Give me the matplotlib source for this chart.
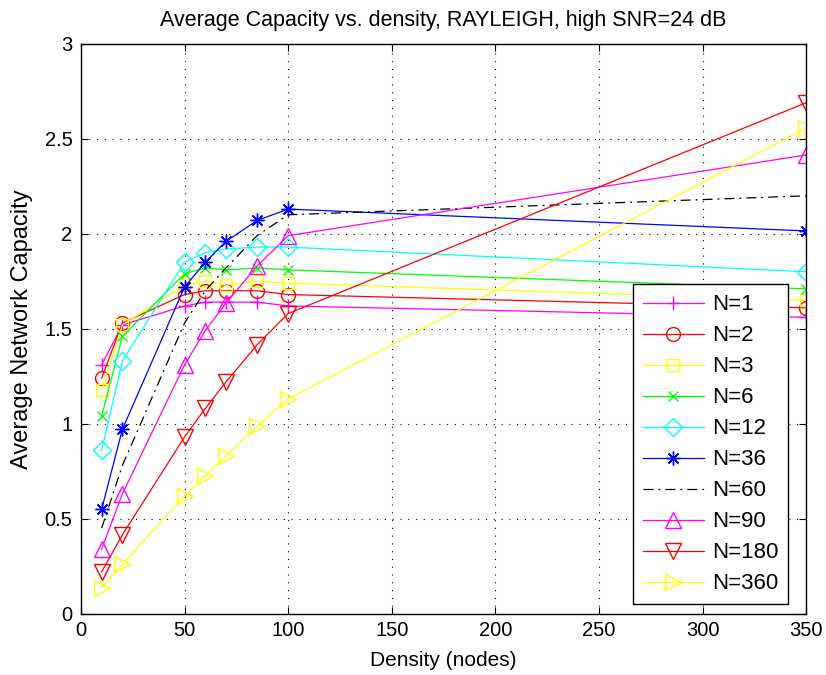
import numpy as np
import matplotlib.pyplot as plt

plt.rcParams['font.family'] = ['Liberation Sans', 'DejaVu Sans']

density = [10, 20, 50, 60, 70, 85, 100, 350]

labels = ["N=1", "N=2", "N=3", "N=6", "N=12", "N=36", "N=60", "N=90", "N=180", "N=360"]

cap_n1 = [1.31, 1.52, 1.62, 1.64, 1.64, 1.64, 1.62, 1.56]
cap_n2 = [1.24, 1.53, 1.68, 1.70, 1.70, 1.70, 1.68, 1.61]
cap_n3 = [1.175, 1.52, 1.73, 1.75, 1.73, 1.75, 1.74, 1.65]
cap_n6 = [1.04, 1.46, 1.79, 1.82, 1.81, 1.82, 1.81, 1.71]
cap_n12 = [0.86, 1.33, 1.85, 1.90, 1.92, 1.93, 1.93, 1.80]
cap_n36 = [0.55, 0.97, 1.72, 1.85, 1.96, 2.07, 2.13, 2.015]
cap_n60 = [0.45, 0.78, 1.53, 1.70, 1.82, 1.99, 2.10, 2.20]
cap_n90 = [0.34, 0.63, 1.31, 1.49, 1.635, 1.83, 1.99, 2.415]
cap_n180 = [0.22, 0.415, 0.93, 1.08, 1.22, 1.415, 1.58, 2.69]
cap_n360 = [0.135, 0.26, 0.62, 0.726, 0.83, 0.986, 1.13, 2.556]

series = [cap_n1, cap_n2, cap_n3, cap_n6, cap_n12, cap_n36, cap_n60, cap_n90, cap_n180, cap_n360]

# matlab style colours / markers
colors = ['#ff00ff', '#ff0000', '#ffff00', '#00ff00', '#00ffff', '#0000ff', '#000000',
          '#ff00ff', '#ff0000', '#ffff00']
markers = ['+', 'o', 's', 'x', 'D', (8, 2, 0), None, '^', 'v', '>']
msizes = [10, 10, 9, 7, 9, 10, 0, 11, 11, 11]

fig = plt.figure(figsize=(8.26, 6.75), dpi=100)
ax = fig.add_axes([0.098, 0.091, 0.878, 0.844])

for vals, lab, c, m, ms in zip(series, labels, colors, markers, msizes):
    if m is None:
        ax.plot(density, vals, color=c, linestyle=(0, (8, 4, 1.5, 4)), linewidth=0.9, label=lab)
    else:
        ax.plot(density, vals, color=c, marker=m, markersize=ms, markerfacecolor='none',
                markeredgecolor=c, markeredgewidth=1.0, linewidth=0.9, label=lab)

ax.set_xlim(0, 350)
ax.set_ylim(0, 3)
ax.set_xticks(np.arange(0, 351, 50))
ax.set_yticks(np.arange(0, 3.01, 0.5))
ax.set_yticklabels(['0', '0.5', '1', '1.5', '2', '2.5', '3'])
ax.grid(True, color='black', linestyle=(0, (1, 6)), linewidth=0.8)
ax.tick_params(direction='in', length=5, labelsize=14.5, top=True, right=True, width=0.8)
ax.tick_params(axis='x', pad=5)
ax.tick_params(axis='y', pad=6)
for sp in ax.spines.values():
    sp.set_linewidth(1.0)

ax.set_xlabel('Density (nodes)', fontsize=15)
ax.set_ylabel('Average Network Capacity', fontsize=17)
ax.xaxis.set_label_coords(0.5, -0.066)
ax.yaxis.set_label_coords(-0.066, 0.5)
ax.set_title('Average Capacity vs. density, RAYLEIGH, high SNR=24 dB', fontsize=15.5, pad=13)

leg = ax.legend(loc='lower right', fontsize=16, frameon=True, fancybox=False,
                edgecolor='black', framealpha=1, borderpad=0.45, labelspacing=0.45,
                handlelength=2.75, handletextpad=0.36, borderaxespad=0,
                bbox_to_anchor=(0.975, 0.016))
leg.get_frame().set_linewidth(1.0)

fig.savefig('out.png', dpi=100)
